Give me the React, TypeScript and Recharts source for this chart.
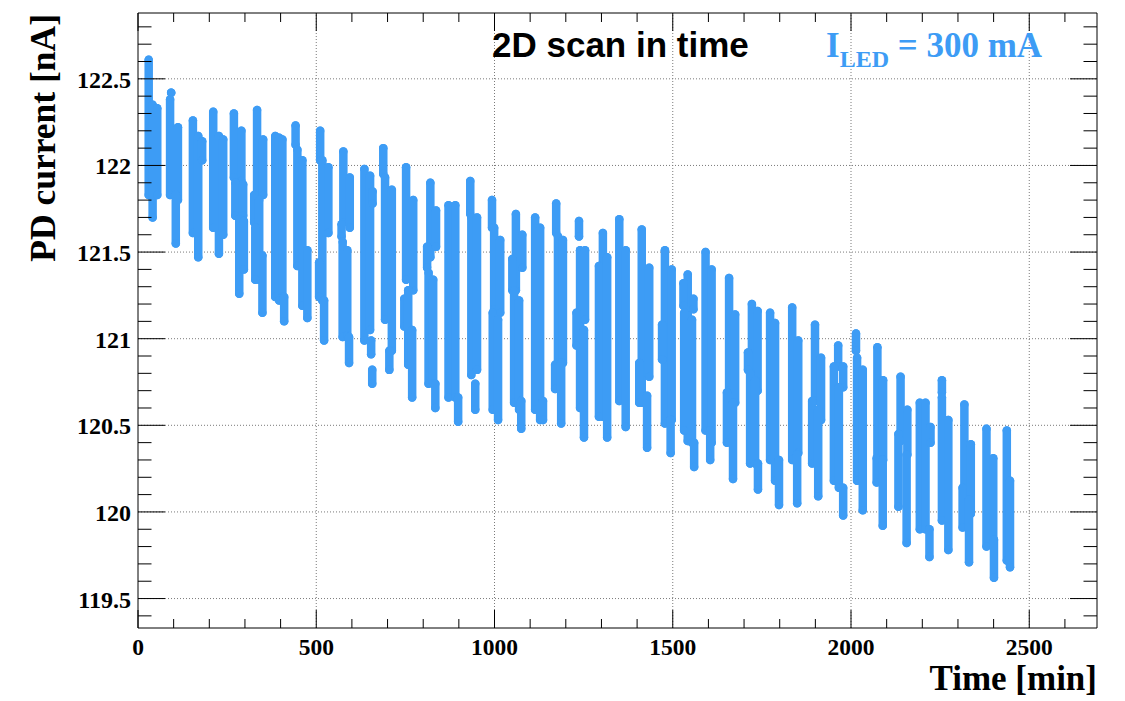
import React from "react";
import { ScatterChart, Scatter, XAxis, YAxis, ErrorBar, ReferenceLine } from "recharts";

// each strip of the 2D scan is drawn as a few vertical runs of points (time, top, bottom)
const segTime = [
  30, 41, 54,
  93, 90, 112, 106,
  154, 169, 180,
  211, 227, 239,
  269, 290, 273, 295, 284, 297,
  334, 351, 326, 340, 349, 329,
  385, 396, 405, 410,
  442, 447, 461, 475,
  511, 517, 534, 508, 522,
  576, 594, 571, 574, 587, 592,
  635, 651, 658, 654, 657,
  688, 693, 712, 705,
  752, 772, 747, 758, 769,
  820, 836, 811, 815, 828, 834,
  871, 890, 898,
  932, 935, 951, 946,
  993, 999, 1016, 995, 1010,
  1060, 1078, 1050, 1055, 1069, 1075,
  1114, 1128, 1136,
  1173, 1178, 1192, 1170, 1187,
  1237, 1240, 1254, 1230, 1251,
  1304, 1293, 1316,
  1350, 1368,
  1413, 1434, 1406, 1428,
  1478, 1497, 1470, 1494,
  1542, 1530, 1558, 1532, 1554, 1560,
  1592, 1609, 1605,
  1658, 1675, 1652, 1669,
  1722, 1738, 1711, 1717, 1731, 1739,
  1773, 1787, 1798,
  1835, 1852, 1849,
  1899, 1916, 1891, 1908,
  1964, 1952, 1978, 1966, 1978,
  2014, 2017, 2033,
  2074, 2090, 2072, 2089,
  2139, 2158, 2133, 2156,
  2193, 2209, 2223, 2220,
  2255, 2255, 2273,
  2318, 2336, 2313, 2331,
  2380, 2399, 2401,
  2437, 2446,
];

const segTop = [
  122.61, 122.35, 122.33,
  122.42, 122.38, 122.22, 121.83,
  122.26, 122.17, 122.14,
  122.31, 122.17, 122.15,
  122.3, 122.2, 121.9, 121.89, 121.69, 121.68,
  122.32, 122.15, 121.83, 121.8, 121.48, 121.64,
  122.17, 122.16, 122.15, 121.24,
  122.23, 122.09, 122.03, 121.51,
  122.2, 122.03, 121.99, 121.44, 121.22,
  122.08, 121.93, 121.66, 121.56, 121.51, 121.01,
  121.98, 121.94, 121.85, 120.99, 120.82,
  122.1, 121.93, 121.86, 120.93,
  121.99, 121.8, 121.23, 121.28, 121.05,
  121.9, 121.74, 121.53, 121.38, 121.34, 120.74,
  121.77, 121.77, 120.66,
  121.91, 121.7, 121.7, 120.74,
  121.8, 121.64, 121.57, 121.15, 121.11,
  121.72, 121.6, 121.46, 121.28, 121.22, 120.64,
  121.7, 121.64, 120.64,
  121.78, 121.59, 121.57, 120.85, 120.86,
  121.68, 121.51, 121.51, 121.15, 121.05,
  121.61, 121.42, 121.47,
  121.69, 121.51,
  121.63, 121.41, 120.86, 120.67,
  121.51, 121.4, 121.08, 120.53,
  121.37, 121.32, 121.23, 121.15, 121.11, 120.4,
  121.5, 121.4, 120.47,
  121.35, 121.14, 120.69, 120.63,
  121.2, 121.16, 120.92, 120.8, 120.76, 120.28,
  121.15, 121.09, 120.3,
  121.18, 120.99, 120.33,
  121.08, 120.89, 120.64, 120.59,
  120.96, 120.84, 120.84, 120.72, 120.14,
  121.03, 120.89, 120.82,
  120.95, 120.76, 120.31, 120.3,
  120.78, 120.59, 120.45, 120.33,
  120.63, 120.63, 120.49, 119.9,
  120.76, 120.66, 120.53,
  120.62, 120.39, 120.14, 120.07,
  120.48, 120.31, 119.84,
  120.47, 120.18,
];

const segBottom = [
  121.83, 121.7, 121.83,
  122.42, 121.83, 121.8, 121.55,
  121.61, 121.47, 122.03,
  121.64, 121.49, 121.6,
  121.93, 121.91, 121.71, 121.71, 121.26, 121.4,
  121.83, 121.83, 121.67, 121.34, 121.15, 121.34,
  121.24, 121.22, 121.24, 121.1,
  122.12, 121.42, 121.19, 121.12,
  122.03, 121.22, 121.61, 121.24, 120.99,
  121.67, 121.64, 121.59, 121.01, 121.02, 120.86,
  120.99, 121.05, 121.78, 120.91, 120.74,
  121.95, 121.11, 120.93, 120.82,
  121.34, 121.28, 121.07, 120.85, 120.66,
  121.47, 121.53, 121.41, 120.74, 120.74, 120.6,
  120.66, 120.66, 120.52,
  121.72, 120.79, 120.82, 120.59,
  121.64, 121.17, 121.15, 120.59, 120.53,
  121.28, 121.41, 121.28, 120.63, 120.59, 120.48,
  120.59, 120.53, 120.53,
  121.61, 120.86, 120.86, 120.71, 120.51,
  121.59, 120.6, 121.11, 120.96, 120.43,
  120.55, 120.55, 120.43,
  120.64, 120.49,
  120.63, 120.78, 120.63, 120.37,
  120.51, 120.53, 120.88, 120.34,
  120.41, 121.19, 121.17, 120.47, 120.4, 120.26,
  120.47, 120.4, 120.3,
  120.7, 120.63, 120.4, 120.19,
  120.8, 120.7, 120.82, 120.28, 120.28, 120.13,
  120.3, 120.18, 120.04,
  120.3, 120.34, 120.05,
  120.64, 120.53, 120.28, 120.09,
  120.84, 120.18, 120.72, 120.14, 119.98,
  120.93, 120.18, 120.01,
  120.3, 120.3, 120.17, 119.92,
  120.41, 120.33, 120.03, 119.82,
  119.9, 119.9, 120.4, 119.74,
  120.69, 119.95, 119.78,
  120.07, 119.99, 119.91, 119.71,
  119.8, 119.8, 119.62,
  119.72, 119.68,
];

const xTicks = [0, 100, 200, 300, 400, 500, 600, 700, 800, 900, 1000, 1100, 1200, 1300, 1400, 1500, 1600, 1700, 1800, 1900, 2000, 2100, 2200, 2300, 2400, 2500, 2600];
const xMajor = [0, 500, 1000, 1500, 2000, 2500];
const yTicks = [119.4, 119.5, 119.6, 119.7, 119.8, 119.9, 120, 120.1, 120.2, 120.3, 120.4, 120.5, 120.6, 120.7, 120.8, 120.9, 121, 121.1, 121.2, 121.3, 121.4, 121.5, 121.6, 121.7, 121.8, 121.9, 122, 122.1, 122.2, 122.3, 122.4, 122.5, 122.6, 122.7, 122.8];
const yMajor = [119.5, 120, 120.5, 121, 121.5, 122, 122.5];

const xDomain = [0, 2690];
const yDomain = [119.33, 122.88];

const W = 1125;
const H = 701;
const MARGIN = { top: 13, right: 28, bottom: 0, left: 0 };
const Y_AXIS_W = 138;
const X_AXIS_H = 73;
const PLOT_W = W - MARGIN.right - Y_AXIS_W;
const PLOT_H = H - MARGIN.top - X_AXIS_H;

const BLUE = "#3d9cf5";
const SERIF = "'Liberation Serif', 'Times New Roman', serif";
const SANS = "'Liberation Sans', Arial, sans-serif";

const isMajor = (v: number, majors: number[]) => majors.some((m) => Math.abs(m - v) < 1e-6);

const segments = segTime.map((t, i) => {
  const mid = (segTop[i] + segBottom[i]) / 2;
  return { t, mid, err: [mid - segBottom[i], segTop[i] - mid] };
});

// bottom tick also draws the matching tick on the top frame edge
function BottomTick({ x, y, payload }: any) {
  const major = isMajor(payload.value, xMajor);
  const len = major ? 18 : 9;
  return (
    <g>
      <line x1={x} x2={x} y1={y} y2={y - len} stroke="#000" strokeWidth={1} />
      <line x1={x} x2={x} y1={y - PLOT_H} y2={y - PLOT_H + len} stroke="#000" strokeWidth={1} />
      {major && (
        <text x={x} y={y + 27} textAnchor="middle" fontFamily={SERIF} fontWeight="bold" fontSize={23.5} fill="#000">
          {payload.value}
        </text>
      )}
    </g>
  );
}

// left tick also draws the matching tick on the right frame edge
function LeftTick({ x, y, payload }: any) {
  const major = isMajor(payload.value, yMajor);
  const len = major ? 27 : 13.5;
  return (
    <g>
      <line x1={x} x2={x + len} y1={y} y2={y} stroke="#000" strokeWidth={1} />
      <line x1={x + PLOT_W} x2={x + PLOT_W - len} y1={y} y2={y} stroke="#000" strokeWidth={1} />
      {major && (
        <text x={x - 7} y={y + 9} textAnchor="end" fontFamily={SERIF} fontWeight="bold" fontSize={24} fill="#000">
          {payload.value}
        </text>
      )}
    </g>
  );
}

export default function App() {
  return (
    <div style={{ position: "absolute", left: 0, top: 0, width: W, height: H, background: "#fff" }}>
      <ScatterChart width={W} height={H} margin={MARGIN}>
        <XAxis
          xAxisId="b"
          type="number"
          dataKey="t"
          domain={xDomain}
          ticks={xTicks}
          interval={0}
          allowDataOverflow
          height={X_AXIS_H}
          tickSize={0}
          tickMargin={0}
          axisLine={{ stroke: "#000", strokeWidth: 1 }}
          tick={<BottomTick />}
        />
        <YAxis
          yAxisId="l"
          type="number"
          dataKey="mid"
          domain={yDomain}
          ticks={yTicks}
          interval={0}
          allowDataOverflow
          width={Y_AXIS_W}
          tickSize={0}
          tickMargin={0}
          axisLine={{ stroke: "#000", strokeWidth: 1 }}
          tick={<LeftTick />}
        />
        {xMajor.slice(1).map((v) => (
          <ReferenceLine key={"gx" + v} xAxisId="b" yAxisId="l" x={v} stroke="#7a7a7a" strokeDasharray="1 2" />
        ))}
        {yMajor.map((v) => (
          <ReferenceLine key={"gy" + v} xAxisId="b" yAxisId="l" y={v} stroke="#7a7a7a" strokeDasharray="1 2" />
        ))}
        <ReferenceLine xAxisId="b" yAxisId="l" x={xDomain[1]} stroke="#000" strokeWidth={1} />
        <ReferenceLine xAxisId="b" yAxisId="l" y={yDomain[1]} stroke="#000" strokeWidth={1} />
        <Scatter xAxisId="b" yAxisId="l" data={segments} isAnimationActive={false} shape={() => <g />}>
          <ErrorBar dataKey="err" direction="y" width={0} stroke={BLUE} strokeWidth={8.5} strokeLinecap="round" isAnimationActive={false} />
        </Scatter>
      </ScatterChart>
      <svg width={W} height={H} style={{ position: "absolute", left: 0, top: 0, pointerEvents: "none" }}>
        <text x={492} y={57} fontFamily={SANS} fontWeight="bold" fontSize={35} fill="#000">
          2D scan in time
        </text>
        <text x={826} y={57} fontFamily={SERIF} fontWeight="bold" fontSize={35} fill={BLUE}>
          I
          <tspan fontSize={24} dy={10}>LED</tspan>
          <tspan dy={-10}> = 300 mA</tspan>
        </text>
        <text x={1097} y={690} textAnchor="end" fontFamily={SERIF} fontWeight="bold" fontSize={35} fill="#000">
          Time [min]
        </text>
        <text
          transform="translate(55,14) rotate(-90)"
          textAnchor="end"
          fontFamily={SERIF}
          fontWeight="bold"
          fontSize={35.5}
          fill="#000"
        >
          PD current [nA]
        </text>
      </svg>
    </div>
  );
}
